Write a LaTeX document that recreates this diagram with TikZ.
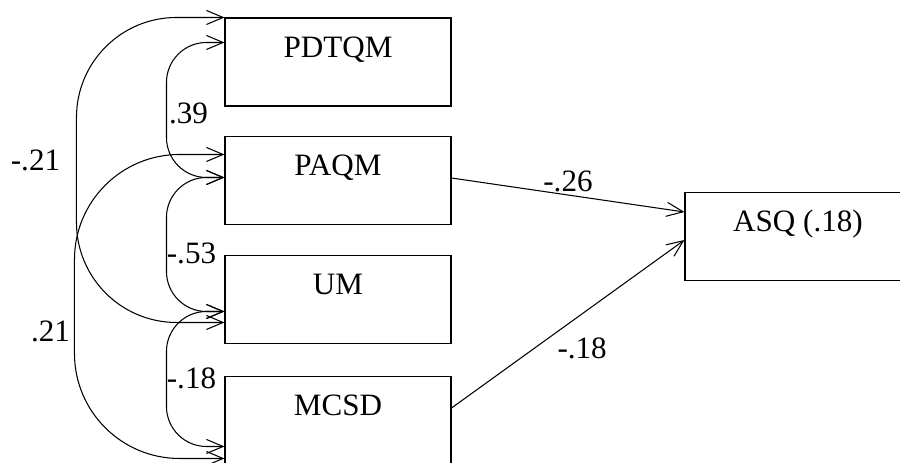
\documentclass[tikz,border=0pt]{standalone}
\usepackage{fontspec}
\setmainfont{Liberation Serif}
\usetikzlibrary{arrows.meta, positioning}

\begin{document}
\begin{tikzpicture}[
    font=\fontsize{17.7}{20}\selectfont,
    latent/.style={rectangle, draw, line width=0.6pt, minimum width=4.52cm, minimum height=1.76cm, inner sep=0pt, text height=11pt, text depth=16.5pt},
    effect/.style={draw, line width=0.6pt, -{Straight Barb[length=9.5pt,width=8pt]}},
    cov/.style={draw, line width=0.6pt, {Straight Barb[length=9.5pt,width=8pt]}-{Straight Barb[length=9.5pt,width=8pt]}},
    coef/.style={inner sep=1.7pt}
]
\clip (0,0) rectangle (18,-9.26);

% Predictors and outcome
\node[latent] (pdtqm) at (6.76,-1.24) {PDTQM};
\node[latent] (paqm) at (6.76,-3.61) {PAQM};
\node[latent] (um) at (6.76,-5.99) {UM};
\node[latent] (mcsd) at (6.76,-8.41) {MCSD};
\node[latent] (asq) at (15.96,-4.73) {ASQ (.18)};

% Correlations between predictors
\draw[cov, rounded corners=2cm] (pdtqm.north west) -- ++(-2.96,0) |- ([yshift=-1.35cm]um.north west);
\draw[cov, rounded corners=2.1cm] ([yshift=-0.37cm]paqm.north west) -- ++(-3.0,0) |- ([yshift=-1.65cm]mcsd.north west);
\draw[cov, rounded corners=0.8cm] ([yshift=-0.5cm]pdtqm.north west) -- ++(-1.16,0) |- ([yshift=-0.83cm]paqm.north west);
\draw[cov, rounded corners=0.8cm] ([yshift=-0.83cm]paqm.north west) -- ++(-1.16,0) |- ([yshift=-1.13cm]um.north west);
\draw[cov, rounded corners=0.8cm] ([yshift=-1.13cm]um.north west) -- ++(-1.16,0) |- ([yshift=-1.41cm]mcsd.north west);

\node[coef] (r1) at (0.71,-3.2) {-.21};
\node[coef] (r2) at (1.01,-6.62) {.21};
\node[coef] (r3) at (3.77,-2.26) {.39};
\node[coef] (r4) at (3.83,-5.06) {-.53};
\node[coef] (r5) at (3.83,-7.56) {-.18};

% Paths to ASQ
\draw[effect] ([yshift=0.05cm]paqm.east) -- node[coef, midway, above] {-.26} ([yshift=0.49cm]asq.west);
\draw[effect] ([yshift=0.25cm]mcsd.east) -- node[coef, pos=0.44, below right] {-.18} ([yshift=-0.07cm]asq.west);

\end{tikzpicture}
\end{document}
